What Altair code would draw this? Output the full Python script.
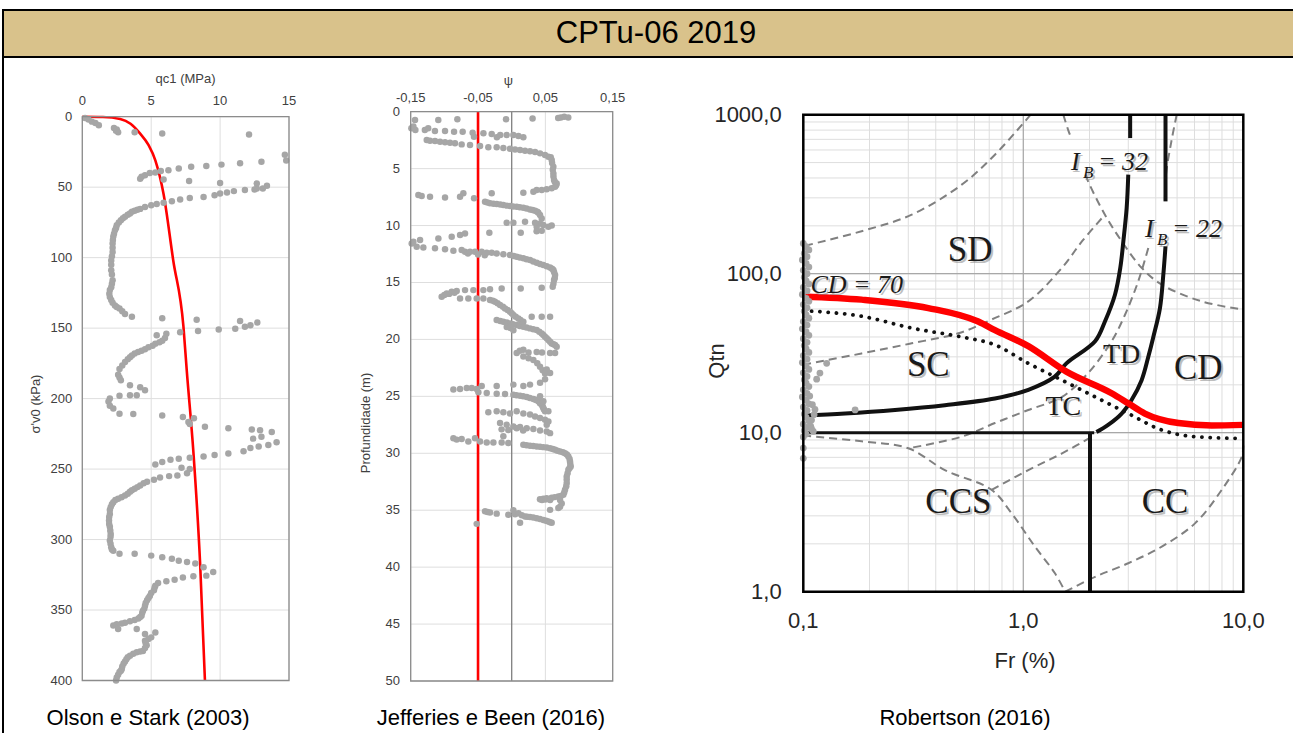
import altair as alt
import pandas as pd

W, H = 1293, 733
SANS = "Liberation Sans"
SERIF = "Liberation Serif"
PT_GREY = "#A6A6A6"
LBL = "#404040"
LBL3 = "#262626"

# ---------------- texts ----------------
header_title = "CPTu-06 2019"
caption_p1 = "Olson e Stark (2003)"
caption_p2 = "Jefferies e Been (2016)"
caption_p3 = "Robertson (2016)"
p1_x_title, p1_y_title = "qc1 (MPa)", "σ'v0 (kPa)"
p2_x_title, p2_y_title = "ψ", "Profundidade (m)"
p3_x_title, p3_y_title = "Fr (%)", "Qtn"

# ---------------- Panel 1 : qc1 (MPa) x sigma'v0 (kPa) ----------------
p1_x_domain = [0, 15]
p1_y_domain = [0, 400]
p1_x_ticks = [0, 5, 10, 15]
p1_y_ticks = [0, 50, 100, 150, 200, 250, 300, 350, 400]

p1_seg_a = [(0.2, 1), (0.45, 2), (0.7, 3.5), (0.95, 4.5), (1.2, 6), (2.3, 8), (2.45, 10), (2.5, 9),
            (2.6, 11), (3.8, 11), (5.8, 12), (12.1, 12.6)]
p1_seg_b = [(14.7, 27), (14.8, 31), (13.0, 32), (11.45, 33), (10.1, 34), (9.0, 35), (7.9, 35.5), (7.0, 36.7),
            (6.25, 38), (5.7, 38.6), (5.3, 39.6), (4.9, 40), (4.55, 41.5), (4.3, 42.6), (4.2, 44)]
p1_seg_c = [(5.9, 44.5), (7.75, 45.7), (10.0, 47), (12.66, 47.4), (12.66, 51), (13.4, 49)]
p1_seg_d = [(13.1, 51), (12.5, 51.7), (11.8, 52), (11.0, 52.8), (10.5, 53.8), (10.0, 54.5), (9.6, 55.7),
            (8.8, 57), (7.8, 57.6), (7.1, 58.8), (6.5, 60), (5.9, 61), (5.4, 62), (5.0, 62.8), (4.55, 64),
            (4.2, 65.4), (4.0, 66), (3.8, 66.8), (3.6, 67.5), (3.46, 68.7), (3.3, 69.5), (3.1, 71), (2.95, 72),
            (2.8, 73.5), (2.65, 75), (2.5, 77), (2.45, 79), (2.37, 80.6), (2.3, 83), (2.25, 85), (2.22, 87.5),
            (2.2, 90), (2.2, 93), (2.2, 96), (2.15, 99), (2.1, 102), (2.1, 105), (2.1, 109), (2.15, 112),
            (2.2, 116), (2.15, 118.5), (2.1, 121), (2.0, 123), (1.96, 125.6), (2.0, 128), (2.1, 130),
            (2.2, 132), (2.37, 134), (2.5, 135), (2.7, 136), (2.9, 138), (3.1, 140), (3.6, 142)]
p1_seg_e = [(5.8, 143), (8.3, 144), (11.45, 145), (12.7, 146), (12.2, 148), (11.8, 149), (11.1, 150.5),
            (9.9, 151), (8.4, 152), (7.1, 153), (6.1, 154), (5.4, 155), (6.0, 157), (5.8, 159), (5.6, 160),
            (5.3, 161), (5.1, 162.5), (4.8, 163.5), (4.55, 165), (4.3, 166), (4.05, 167), (3.8, 168),
            (3.6, 169.5), (3.46, 170.6), (3.3, 172), (3.1, 174), (2.9, 176.5), (2.7, 179), (2.6, 183)]
p1_seg_f = [(2.7, 185), (2.8, 187), (3.46, 190.5), (4.2, 192), (4.55, 194), (3.95, 197.6), (3.46, 197.6),
            (2.7, 198), (2.0, 200), (1.9, 202), (2.0, 205), (2.25, 207), (2.7, 210.7), (3.7, 211)]
p1_seg_g = [(5.8, 212), (7.3, 213), (8.1, 214), (7.7, 216.6), (7.8, 218), (8.9, 220), (10.6, 221), (12.3, 222),
            (12.9, 222.5), (13.75, 223.7), (13.0, 227), (12.4, 228.4), (14.1, 231), (13.5, 233), (12.8, 234),
            (12.2, 235), (11.7, 237.4), (10.6, 239), (9.6, 240), (8.8, 241), (7.8, 242), (7.0, 242.7),
            (6.4, 243.4), (5.8, 245), (5.3, 246.7)]
p1_seg_h = [(7.2, 249), (7.8, 250), (7.6, 253), (6.9, 254.5), (6.3, 255), (5.64, 256), (5.2, 257.6), (4.7, 259),
            (4.45, 260), (4.2, 261.6), (4.0, 262.8), (3.8, 264), (3.6, 265), (3.46, 266), (3.3, 267.5),
            (3.1, 268.7), (2.85, 270), (2.6, 271), (2.4, 272), (2.25, 273.5), (2.15, 275), (2.06, 277),
            (2.0, 279), (2.0, 281.8), (1.95, 284), (1.94, 286.5), (1.95, 289), (2.0, 291), (2.03, 293.5),
            (2.06, 296), (2.05, 298), (2.0, 300.7), (2.05, 303), (2.1, 305.5), (2.15, 307), (2.25, 308), (2.7, 310)]
p1_seg_i = [(3.8, 310), (5.0, 311.4), (5.8, 312.6), (6.5, 313.7), (7.0, 315), (7.6, 316), (8.2, 317),
            (8.8, 319.7), (9.5, 323), (9.0, 325.6), (8.06, 326), (7.3, 327), (6.7, 328.6), (6.1, 329.6), (5.5, 330.8)]
p1_seg_j = [(5.3, 332.7), (5.25, 334), (5.2, 336), (5.0, 338), (4.9, 340), (4.8, 341.5), (4.7, 343), (4.6, 345),
            (4.55, 347), (4.5, 349), (4.4, 350.5), (4.35, 352), (4.3, 354), (4.2, 355), (4.07, 356), (3.8, 357),
            (3.46, 358), (3.1, 359), (2.86, 359.5), (2.5, 360), (2.25, 361), (2.6, 363.5), (3.95, 363.5),
            (5.3, 366), (4.55, 367), (5.0, 369.4), (4.8, 370.5), (4.55, 371.8), (4.6, 373.5), (4.67, 375),
            (4.55, 377), (4.4, 379), (4.2, 379.5), (3.95, 380), (3.7, 381), (3.46, 382.5), (3.3, 383.5),
            (3.2, 385), (3.1, 386.5), (3.0, 388), (2.9, 390), (2.86, 392), (2.8, 393), (2.7, 394), (2.6, 396),
            (2.5, 397.9), (2.45, 400)]
p1_curve = [(0, 0), (1.5, 0.2), (2.75, 1.6), (3.5, 5), (4.2, 12), (4.8, 20), (5.3, 31), (5.9, 55),
            (6.6, 102), (7.34, 149), (7.58, 180), (8.07, 239), (8.55, 317), (8.9, 400)]

# ---------------- Panel 2 : psi x depth (m) ----------------
p2_x_domain = [-0.15, 0.15]
p2_y_domain = [0, 50]
p2_x_ticks = [-0.15, -0.05, 0.05, 0.15]
p2_y_ticks = [0, 5, 10, 15, 20, 25, 30, 35, 40, 45, 50]
p2_limit = [-0.05]
p2_zero = [0.0]

p2_seg_a = [(-0.1436, 0.73), (-0.109, 0.73), (-0.0807, 0.67), (-0.0084, 0.67), (0.031, 0.59), (0.069, 0.55),
            (0.073, 0.5), (0.078, 0.45), (0.084, 0.5)]
p2_seg_b = [(-0.149, 1.45), (-0.146, 1.3), (-0.143, 1.6), (-0.129, 1.6), (-0.124, 1.45), (-0.114, 1.7),
            (-0.099, 1.7), (-0.0856, 1.76), (-0.0728, 1.76), (-0.058, 1.85), (-0.056, 2.2), (-0.042, 1.9),
            (-0.0297, 1.96), (-0.022, 2.25), (-0.017, 2.05), (-0.0074, 2.05), (0.0025, 2.05), (0.01, 2.14),
            (0.0173, 2.25)]
p2_seg_c = [(-0.1262, 2.49), (-0.1213, 2.55), (-0.1139, 2.58), (-0.1064, 2.64), (-0.099, 2.69), (-0.0916, 2.72),
            (-0.0842, 2.78), (-0.0743, 2.87), (-0.0619, 2.93), (-0.047, 3.02), (-0.0347, 3.13), (-0.0223, 3.13),
            (-0.0124, 3.19), (-0.0025, 3.25), (0.005, 3.31), (0.0124, 3.37), (0.0198, 3.43), (0.0272, 3.48),
            (0.0347, 3.54), (0.0421, 3.66), (0.0495, 3.81), (0.0545, 3.95), (0.058, 4.0), (0.0594, 4.25),
            (0.06, 4.5), (0.0619, 4.83), (0.061, 5.1), (0.0619, 5.42), (0.062, 5.7), (0.0629, 6.0), (0.064, 6.15),
            (0.0668, 6.3), (0.066, 6.45), (0.0644, 6.59), (0.0594, 6.73), (0.052, 6.82), (0.0446, 6.88),
            (0.0371, 6.88), (0.0322, 7.03), (0.0173, 7.12)]
p2_seg_d = [(-0.1386, 7.32), (-0.1337, 7.41), (-0.1213, 7.47), (-0.099, 7.53), (-0.0767, 7.47), (-0.0718, 7.17),
            (-0.0559, 7.61), (-0.0297, 7.17)]
p2_seg_e = [(-0.0396, 7.91), (-0.036, 7.98), (-0.0322, 8.05), (-0.027, 8.08), (-0.0223, 8.11), (-0.017, 8.15),
            (-0.0124, 8.2), (-0.007, 8.25), (-0.0025, 8.29), (0.002, 8.32), (0.0074, 8.35), (0.012, 8.39),
            (0.0173, 8.43), (0.022, 8.5), (0.0272, 8.58), (0.031, 8.64), (0.0347, 8.70), (0.038, 8.78),
            (0.0396, 8.87), (0.0421, 9.08), (0.0446, 9.37), (0.0421, 9.81), (0.0371, 10.1)]
p2_seg_f = [(-0.0074, 9.75), (0.0025, 9.75), (0.0134, 10.63), (0.0198, 9.66), (0.0347, 9.75), (0.047, 9.96),
            (0.0545, 10.1), (0.0594, 10.0), (-0.0332, 10.63), (0.037, 10.5), (0.0446, 10.45)]
p2_seg_g = [(-0.0767, 10.83), (-0.0693, 10.69), (-0.0891, 10.98), (-0.1089, 11.13), (-0.1361, 11.27),
            (-0.146, 11.42), (-0.1485, 11.57), (-0.1411, 11.86), (-0.1312, 11.92)]
p2_seg_h = [(-0.1139, 12.0), (-0.099, 12.09), (-0.0866, 12.21), (-0.0743, 12.15), (-0.0693, 12.3), (-0.065, 12.45),
            (-0.0619, 12.3), (-0.0545, 12.3), (-0.05, 12.55), (-0.0446, 12.3), (-0.04, 12.6), (-0.0371, 12.39),
            (-0.0297, 12.39), (-0.0223, 12.45), (-0.0124, 12.51), (-0.0025, 12.59), (0.003, 12.67),
            (0.0074, 12.74), (0.012, 12.8), (0.0173, 12.88), (0.022, 12.95), (0.0272, 13.03), (0.032, 13.15),
            (0.0371, 13.26), (0.042, 13.37), (0.047, 13.47), (0.052, 13.58), (0.0569, 13.68), (0.06, 13.8),
            (0.0619, 13.91), (0.063, 14.1), (0.0644, 14.35), (0.064, 14.6), (0.0629, 14.79), (0.062, 15.1),
            (0.0609, 15.37)]
p2_seg_i = [(-0.104, 16.25), (-0.1, 16.1), (-0.0965, 15.96), (-0.093, 16.0), (-0.0891, 15.81), (-0.085, 15.9),
            (-0.0817, 15.75), (-0.0693, 15.67), (-0.0569, 15.67), (-0.0421, 15.67), (-0.0322, 15.6),
            (-0.0149, 15.52), (0.0134, 15.52), (0.0446, 15.46)]
p2_seg_j = [(-0.0767, 16.4), (-0.0644, 16.4), (-0.052, 16.4), (-0.0421, 16.4), (-0.0322, 16.54), (-0.028, 16.6),
            (-0.0248, 16.69), (-0.021, 16.83), (-0.0173, 16.98), (-0.013, 17.13), (-0.0099, 17.28),
            (-0.006, 17.42), (-0.0025, 17.57), (0.0, 17.7), (0.0025, 17.86), (0.006, 18.0), (0.0099, 18.16),
            (0.013, 18.3), (0.0173, 18.45)]
p2_seg_k = [(-0.0223, 18.3), (-0.017, 18.38), (-0.0124, 18.45), (-0.007, 18.52), (-0.0025, 18.6), (0.002, 18.67),
            (0.0074, 18.74), (0.012, 18.82), (0.0173, 18.89), (0.022, 18.96), (0.0272, 19.03), (0.032, 19.1),
            (0.0371, 19.18), (0.041, 19.32), (0.0446, 19.47), (0.047, 19.62), (0.0495, 19.77), (0.052, 19.9),
            (0.0545, 20.06), (0.057, 20.2), (0.0594, 20.35), (0.062, 20.43), (0.0644, 20.5), (0.0668, 20.64),
            (0.0297, 18.0), (0.0446, 18.0), (0.057, 18.0), (-0.0074, 18.9), (-0.002, 19.0), (0.0025, 19.2)]
p2_seg_l = [(0.0644, 21.2), (0.057, 21.2), (0.045, 21.15), (0.0371, 21.1), (0.025, 21.15), (0.0173, 20.9),
            (0.012, 21.0), (0.0074, 21.2), (0.0173, 21.5), (0.025, 21.65), (0.0322, 21.8), (0.038, 22.1),
            (0.0421, 22.4), (0.046, 22.7), (0.0495, 23.0), (0.052, 22.65), (0.057, 22.95), (0.0495, 23.5),
            (0.0421, 23.8), (0.0272, 23.97), (0.0173, 24.1)]
p2_seg_m = [(-0.0866, 24.4), (-0.0767, 24.35), (-0.0668, 24.27), (-0.0594, 24.27), (-0.052, 24.35),
            (-0.0445, 24.1), (-0.0223, 24.1), (0.0025, 23.97)]
p2_seg_n = [(-0.0495, 24.65), (-0.0371, 24.7), (-0.0223, 24.77), (-0.0099, 24.8), (0.0025, 24.85), (0.007, 24.9),
            (0.0124, 24.94), (0.017, 25.0), (0.0223, 25.06), (0.027, 25.15), (0.0322, 25.23), (0.036, 25.33),
            (0.0396, 25.44), (0.042, 25.6), (0.0446, 25.73), (0.046, 25.9), (0.047, 26.03), (0.048, 26.15),
            (0.0495, 26.3), (0.0545, 26.3), (0.047, 25.44), (0.0421, 25.0)]
p2_seg_o = [(-0.0347, 26.4), (-0.0223, 26.3), (-0.0124, 26.4), (-0.0025, 26.5), (0.0074, 26.3), (0.0173, 26.5),
            (0.0272, 26.6), (0.0347, 26.76), (0.0421, 26.9), (0.0495, 27.05), (0.0545, 27.2), (0.052, 27.5)]
p2_seg_p = [(-0.0173, 27.35), (-0.0074, 27.5), (0.0025, 27.64), (0.0124, 27.7), (0.0223, 27.8), (0.0322, 27.87),
            (0.0421, 28.0), (0.052, 28.08), (0.057, 28.23), (-0.015, 27.9), (-0.005, 27.95), (0.0074, 27.8),
            (0.017, 28.0)]
p2_seg_q = [(-0.0866, 28.67), (-0.0817, 28.8), (-0.0743, 28.74), (-0.0644, 28.96), (-0.0545, 28.67),
            (-0.047, 28.96), (-0.0371, 29.05), (-0.0272, 29.05), (-0.0149, 29.05), (-0.005, 29.1), (-0.0124, 28.5)]
p2_seg_r = [(0.0173, 29.25), (0.022, 29.3), (0.0272, 29.34), (0.032, 29.37), (0.0371, 29.4), (0.042, 29.43),
            (0.047, 29.46), (0.052, 29.5), (0.057, 29.55), (0.061, 29.62), (0.0644, 29.7), (0.068, 29.77),
            (0.0718, 29.84), (0.076, 29.9), (0.0792, 29.99), (0.082, 30.1), (0.0842, 30.28), (0.086, 30.5),
            (0.0866, 30.72), (0.087, 30.95), (0.0876, 31.16), (0.086, 31.3), (0.0842, 31.45), (0.083, 31.75),
            (0.0817, 32.04), (0.0817, 32.3), (0.0817, 32.62), (0.081, 32.9), (0.0792, 33.2), (0.078, 33.45),
            (0.0767, 33.65), (0.073, 33.75), (0.0693, 33.8), (0.064, 33.85), (0.0594, 33.9), (0.052, 33.94),
            (0.047, 34.0), (0.042, 34.03), (0.045, 34.1), (0.05, 34.05), (0.057, 34.1)]
p2_seg_s = [(0.0718, 34.1), (0.0743, 34.4), (0.0718, 34.7), (0.0693, 34.8), (0.057, 34.97)]
p2_seg_t = [(-0.0396, 35.1), (-0.036, 35.15), (-0.0322, 35.2), (-0.0223, 35.3), (-0.005, 35.4), (0.0025, 35.0),
            (0.005, 35.35), (0.01, 35.26), (0.015, 35.45), (0.0198, 35.55), (0.023, 35.57), (0.0272, 35.6),
            (0.032, 35.65), (0.0371, 35.7), (0.042, 35.78), (0.047, 35.85), (0.051, 35.93), (0.0545, 36.0),
            (0.057, 36.05), (0.0594, 36.1), (0.0124, 36.1), (-0.052, 36.2)]

# ---------------- Panel 3 : Robertson (2016) Fr (%) x Qtn ----------------
p3_x_domain = [0.1, 10]
p3_y_domain = [1, 1000]
p3_x_grid = [0.1, 0.2, 0.3, 0.4, 0.5, 0.6, 0.7, 0.8, 0.9, 1, 2, 3, 4, 5, 6, 7, 8, 9, 10]
p3_y_grid = [1, 2, 3, 4, 5, 6, 7, 8, 9, 10, 20, 30, 40, 50, 60, 70, 80, 90,
             100, 200, 300, 400, 500, 600, 700, 800, 900, 1000]
p3_x_labels = [0.1, 1, 10]
p3_y_labels = [1, 10, 100, 1000]
p3_x_major = [1]
p3_y_major = [10, 100]

p3_column = [(0.1, 155), (0.103, 148), (0.106, 141), (0.101, 134), (0.104, 128), (0.099, 122), (0.103, 116),
             (0.106, 110), (0.1, 105), (0.104, 100), (0.101, 95), (0.103, 90), (0.106, 86), (0.1, 82),
             (0.104, 78), (0.099, 74), (0.103, 70), (0.106, 67), (0.1, 64), (0.104, 61), (0.101, 58),
             (0.103, 55), (0.106, 52.5), (0.1, 50), (0.104, 47.5), (0.099, 45), (0.103, 43), (0.106, 41),
             (0.1, 39), (0.104, 37), (0.101, 35.3), (0.103, 33.6), (0.106, 32), (0.1, 30.5), (0.104, 29),
             (0.099, 27.6), (0.103, 26.3), (0.106, 25), (0.1, 23.8), (0.104, 22.6), (0.101, 21.5),
             (0.103, 20.5), (0.106, 19.5), (0.1, 18.6), (0.104, 17.7), (0.099, 16.8), (0.103, 16),
             (0.106, 15.2), (0.1, 14.5), (0.104, 13.8), (0.101, 13.1), (0.103, 12.5), (0.106, 11.9),
             (0.1, 11.3), (0.104, 10.8), (0.101, 10.3), (0.103, 9.8), (0.1, 9.4), (0.1, 8.0), (0.1, 6.9)]
p3_scatter = [(0.11, 15), (0.112, 13), (0.108, 11), (0.111, 10.2), (0.109, 12), (0.107, 17), (0.113, 14),
              (0.109, 10.6), (0.1277, 27.3), (0.119, 23.7), (0.115, 21.7), (0.172, 13.9)]

p3_cd70 = [(0.1, 72), (0.184, 68.7), (0.37, 60.8), (0.624, 50), (0.743, 44.2), (1.054, 35), (1.57, 24.2),
           (2.52, 17.7), (3.0, 15.3), (3.57, 13.2), (5.07, 11.5), (7.18, 11.1), (10.0, 11.2)]
p3_dotted = [(0.1, 58.5), (0.184, 54), (0.311, 45.5), (0.525, 40), (0.743, 35.7), (1.054, 27.3), (1.5, 21.4),
             (2.12, 16.8), (3.0, 13.2), (4.26, 10.4), (6.03, 9.44), (10.0, 9.2)]
p3_ib32_top = [(3.06, 1000), (3.06, 713)]
p3_ib32 = [(3.0, 420), (2.95, 259), (2.85, 160), (2.76, 109), (2.61, 73.8), (2.35, 50.1), (2.12, 37.6),
           (1.57, 27.3), (1.39, 22.5), (1.054, 18.6), (0.743, 16.4), (0.44, 14.9), (0.261, 13.9),
           (0.155, 13.2), (0.1, 12.8)]
p3_ib22_top = [(4.43, 1000), (4.43, 285)]
p3_ib22 = [(4.43, 149), (4.33, 98.6), (4.18, 60.8), (3.9, 40), (3.7, 30), (3.45, 21.4), (3.11, 16.1),
           (2.8, 13.2), (2.43, 11.2), (2.15, 10.1)]
p3_q10_line = [(0.1, 10), (2.1, 10)]
p3_fr2_line = [(2.01, 10), (2.01, 1)]

p3_dash_1 = [(0.102, 150), (0.184, 185), (0.311, 235), (0.525, 363), (0.743, 560), (1.08, 1000)]
p3_dash_2a = [(1.52, 1000), (1.6, 800), (1.66, 700)]
p3_dash_2b = [(1.92, 420), (1.97, 381), (2.35, 235), (2.8, 160), (3.45, 109), (4.26, 85.3), (6.47, 67), (10.0, 59.4)]
p3_dash_3 = [(0.1, 26.8), (0.184, 31.5), (0.311, 36.5), (0.507, 42.2), (0.706, 51), (1.054, 67), (1.5, 109),
             (1.85, 160), (2.35, 235)]
p3_dash_4a = [(4.98, 1000), (4.72, 690), (4.46, 427), (4.4, 290)]
p3_dash_4b = [(3.7, 145), (3.33, 89.6), (2.9, 55.2), (2.52, 37.6), (1.97, 23.7), (1.5, 16.8), (1.054, 13.9),
              (0.743, 11.5), (0.525, 9.44), (0.3, 7.98)]
p3_dash_5 = [(0.1, 9.6), (0.184, 8.83), (0.3, 7.98), (0.44, 5.82), (0.718, 4.37), (0.885, 3.11), (1.13, 1.92),
             (1.39, 1.31), (1.55, 1.0)]
p3_dash_6 = [(0.718, 4.37), (1.054, 5.82), (1.5, 7.41), (2.12, 9.69)]
p3_dash_7 = [(1.55, 1.0), (2.12, 1.24), (3.0, 1.51), (4.26, 1.92), (6.03, 2.69), (7.98, 4.37), (9.84, 7.06), (10.0, 8.3)]

p3_zone_big = [("SD", 0.573, 141.6), ("SC", 0.37, 26.7), ("CD", 6.24, 25.4), ("CCS", 0.507, 3.68), ("CC", 4.41, 3.68)]
p3_zone_small = [("TD", 2.8, 30.8), ("TC", 1.52, 14.6)]
p3_cd70_label = [("CD = 70", 0.175, 85.3)]
p3_ib_labels = [("= 32", 2.48, 504), ("= 22", 5.37, 191)]


# ---------------- helpers ----------------
def df_xy(pairs, xn, yn):
    return pd.DataFrame({xn: [p[0] for p in pairs], yn: [p[1] for p in pairs], "i": list(range(len(pairs)))})


def df_curves(named, xn, yn):
    frames = []
    for name, pairs in named:
        d = df_xy(pairs, xn, yn)
        d["curve"] = name
        frames.append(d)
    return pd.concat(frames, ignore_index=True)


def df_labels(items):
    return pd.DataFrame({"txt": [t[0] for t in items], "fr": [t[1] for t in items], "q": [t[2] for t in items]})


def frame_rect(xd, yd, xs, ys, color, width):
    d = pd.DataFrame({"x0": [xd[0]], "x1": [xd[1]], "y0": [yd[0]], "y1": [yd[1]]})
    return alt.Chart(d).mark_rect(fillOpacity=0, stroke=color, strokeWidth=width).encode(
        x=alt.X("x0:Q", scale=xs, axis=None), x2="x1", y=alt.Y("y0:Q", scale=ys, axis=None), y2="y1")


def grid_v(ticks, xs, ys, ydom, color, width=1.0):
    d = pd.DataFrame({"v": ticks, "lo": [ydom[0]] * len(ticks), "hi": [ydom[1]] * len(ticks)})
    return alt.Chart(d).mark_rule(color=color, strokeWidth=width).encode(
        x=alt.X("v:Q", scale=xs, axis=None), y=alt.Y("lo:Q", scale=ys, axis=None), y2="hi")


def grid_h(ticks, xs, ys, xdom, color, width=1.0):
    d = pd.DataFrame({"v": ticks, "lo": [xdom[0]] * len(ticks), "hi": [xdom[1]] * len(ticks)})
    return alt.Chart(d).mark_rule(color=color, strokeWidth=width).encode(
        y=alt.Y("v:Q", scale=ys, axis=None), x=alt.X("lo:Q", scale=xs, axis=None), x2="hi")


def labels_x(ticks, xs, ypix, expr, size, color):
    return alt.Chart(pd.DataFrame({"v": ticks})).transform_calculate(lab=expr).mark_text(
        font=SANS, fontSize=size, color=color, align="center", baseline="middle").encode(
        x=alt.X("v:Q", scale=xs, axis=None), y=alt.value(ypix), text="lab:N")


def labels_y(ticks, ys, xpix, expr, size, color):
    return alt.Chart(pd.DataFrame({"v": ticks})).transform_calculate(lab=expr).mark_text(
        font=SANS, fontSize=size, color=color, align="right", baseline="middle").encode(
        y=alt.Y("v:Q", scale=ys, axis=None), x=alt.value(xpix), text="lab:N")


one = pd.DataFrame({"k": [0]})


def free_text(txt, xpix, ypix, size, color, angle=0, font=SANS):
    kw = dict(font=font, fontSize=size, color=color, align="center", baseline="middle")
    if angle:
        kw["angle"] = angle
    return alt.Chart(one).mark_text(**kw).encode(x=alt.value(xpix), y=alt.value(ypix), text=alt.value(txt))


INT_FMT = "format(datum.v, 'd')"
COMMA2 = "replace(replace(format(datum.v, '.2f'), '.', ','), '\u2212', '-')"
COMMA1 = "replace(format(datum.v, '.1f'), '.', ',')"
GRID = "#DEDEDE"

# ---------------- Panel 1 chart ----------------
X1 = alt.Scale(domain=p1_x_domain, range=[82.3, 289.0], nice=False, zero=False)
Y1 = alt.Scale(domain=p1_y_domain, range=[116.7, 680.5], nice=False, zero=False)

p1_points = df_xy(p1_seg_a + p1_seg_b + p1_seg_c + p1_seg_d + p1_seg_e + p1_seg_f + p1_seg_g + p1_seg_h
                  + p1_seg_i + p1_seg_j, "qc1", "sv0")
p1_line = alt.Chart(df_xy(p1_curve, "qc1", "sv0")).mark_line(color="#FF0000", strokeWidth=2.6, interpolate="monotone").encode(
    x=alt.X("qc1:Q", scale=X1, axis=None), y=alt.Y("sv0:Q", scale=Y1, axis=None), order="i:Q")
p1_pts = alt.Chart(p1_points).mark_circle(size=42, color=PT_GREY, opacity=1).encode(
    x=alt.X("qc1:Q", scale=X1, axis=None), y=alt.Y("sv0:Q", scale=Y1, axis=None))
panel1 = alt.layer(
    grid_v(p1_x_ticks, X1, Y1, p1_y_domain, GRID), grid_h(p1_y_ticks, X1, Y1, p1_x_domain, GRID),
    p1_line, p1_pts, frame_rect(p1_x_domain, p1_y_domain, X1, Y1, "#8C8C8C", 1.3),
    labels_x(p1_x_ticks, X1, 101, INT_FMT, 13, LBL), labels_y(p1_y_ticks, Y1, 72.3, INT_FMT, 13, LBL),
)

# ---------------- Panel 2 chart ----------------
X2 = alt.Scale(domain=p2_x_domain, range=[410.7, 612.7], nice=False, zero=False)
Y2 = alt.Scale(domain=p2_y_domain, range=[111.7, 681.0], nice=False, zero=False)

p2_points = df_xy(p2_seg_a + p2_seg_b + p2_seg_c + p2_seg_d + p2_seg_e + p2_seg_f + p2_seg_g + p2_seg_h
                  + p2_seg_i + p2_seg_j + p2_seg_k + p2_seg_l + p2_seg_m + p2_seg_n + p2_seg_o + p2_seg_p
                  + p2_seg_q + p2_seg_r + p2_seg_s + p2_seg_t, "psi", "depth")
p2_pts = alt.Chart(p2_points).mark_circle(size=42, color=PT_GREY, opacity=1).encode(
    x=alt.X("psi:Q", scale=X2, axis=None), y=alt.Y("depth:Q", scale=Y2, axis=None))
panel2 = alt.layer(
    grid_v(p2_x_ticks, X2, Y2, p2_y_domain, GRID), grid_h(p2_y_ticks, X2, Y2, p2_x_domain, GRID),
    grid_v(p2_zero, X2, Y2, p2_y_domain, "#7F7F7F", 1.3),
    grid_v(p2_limit, X2, Y2, p2_y_domain, "#FF0000", 2.6),
    p2_pts, frame_rect(p2_x_domain, p2_y_domain, X2, Y2, "#8C8C8C", 1.3),
    labels_x(p2_x_ticks, X2, 97.5, COMMA2, 13, LBL), labels_y(p2_y_ticks, Y2, 400, INT_FMT, 13, LBL),
)

# ---------------- Panel 3 chart ----------------
X3 = alt.Scale(type="log", domain=p3_x_domain, range=[803.3, 1243.3], nice=False)
Y3 = alt.Scale(type="log", domain=p3_y_domain, range=[591.7, 114.7], nice=False)
enc3 = dict(x=alt.X("fr:Q", scale=X3, axis=None), y=alt.Y("q:Q", scale=Y3, axis=None))

dash_df = df_curves([("d1", p3_dash_1), ("d2a", p3_dash_2a), ("d2b", p3_dash_2b), ("d3", p3_dash_3),
                     ("d4a", p3_dash_4a), ("d4b", p3_dash_4b), ("d5", p3_dash_5), ("d6", p3_dash_6),
                     ("d7", p3_dash_7)], "fr", "q")
p3_dashed = alt.Chart(dash_df).mark_line(color="#808080", strokeWidth=2, strokeDash=[8, 5], interpolate="catmull-rom").encode(
    detail="curve:N", order="i:Q", **enc3)
black_curve_df = df_curves([("ib32", p3_ib32), ("ib22", p3_ib22)], "fr", "q")
black_straight_df = df_curves([("ib32t", p3_ib32_top), ("ib22t", p3_ib22_top), ("fr2", p3_fr2_line)], "fr", "q")
p3_black_curves = alt.Chart(black_curve_df).mark_line(color="#111111", strokeWidth=4, interpolate="catmull-rom").encode(
    detail="curve:N", order="i:Q", **enc3)
p3_black_straight = alt.Chart(black_straight_df).mark_line(color="#111111", strokeWidth=4).encode(
    detail="curve:N", order="i:Q", **enc3)
p3_q10 = alt.Chart(df_xy(p3_q10_line, "fr", "q")).mark_line(color="#111111", strokeWidth=3).encode(order="i:Q", **enc3)
p3_dot = alt.Chart(df_xy(p3_dotted, "fr", "q")).mark_line(color="#111111", strokeWidth=3.8, strokeDash=[0.1, 8.2],
                                                        strokeCap="round", interpolate="monotone").encode(order="i:Q", **enc3)
p3_red = alt.Chart(df_xy(p3_cd70, "fr", "q")).mark_line(color="#FF0000", strokeWidth=6.5, interpolate="monotone").encode(
    order="i:Q", **enc3)


def serif_text(items, size, italic=False, dx=0, dy=0, fixed=None):
    """Label text with the soft grey drop shadow of the original Robertson figure."""
    layers = []
    for colour, ox, oy, op in (("#8A8A8A", 2, 2, 0.55), ("#1A1A1A", 0, 0, 1)):
        kw = dict(font=SERIF, fontSize=size, color=colour, opacity=op, align="left" if fixed is not None or dx else "center",
                  baseline="middle", dx=dx + ox, dy=dy + oy)
        if italic:
            kw["fontStyle"] = "italic"
        txt = alt.value(fixed) if fixed is not None else alt.Text("txt:N")
        layers.append(alt.Chart(df_labels(items)).mark_text(**kw).encode(text=txt, **enc3))
    return layers


p3_texts = (serif_text(p3_zone_big, 35) + serif_text(p3_zone_small, 28) + serif_text(p3_cd70_label, 26, italic=True)
            + serif_text(p3_ib_labels, 26, italic=True, dx=-12)
            + serif_text(p3_ib_labels, 26, italic=True, dx=-39, fixed="I")
            + serif_text(p3_ib_labels, 17, italic=True, dx=-27, dy=11, fixed="B"))

p3_pts = alt.Chart(df_xy(p3_column + p3_scatter, "fr", "q")).mark_circle(size=46, color=PT_GREY, opacity=1).encode(**enc3)

panel3 = alt.layer(
    grid_v(p3_x_grid, X3, Y3, p3_y_domain, GRID), grid_h(p3_y_grid, X3, Y3, p3_x_domain, GRID),
    grid_v(p3_x_major, X3, Y3, p3_y_domain, "#A8A8A8", 1.2), grid_h(p3_y_major, X3, Y3, p3_x_domain, "#A8A8A8", 1.2),
    p3_dashed, p3_black_curves, p3_black_straight, p3_q10, p3_dot, p3_red,
    *p3_texts, p3_pts,
    frame_rect(p3_x_domain, p3_y_domain, X3, Y3, "#000000", 2.5),
    labels_x(p3_x_labels, X3, 621, COMMA1, 22, LBL3), labels_y(p3_y_labels, Y3, 781.7, COMMA1, 22, LBL3),
)

# ---------------- header, border, titles and captions ----------------
header_band = alt.Chart(one).mark_rect(fill="#D9C28B", stroke="#000000", strokeWidth=2).encode(
    x=alt.value(3), x2=alt.value(W + 2), y=alt.value(10), y2=alt.value(57))
left_border = alt.Chart(one).mark_rule(color="#000000", strokeWidth=2).encode(
    x=alt.value(3), y=alt.value(10), y2=alt.value(H))

texts = [
    free_text(header_title, 656, 34, 31, "#000000"),
    free_text(p1_x_title, 185.6, 79, 13, LBL), free_text(p1_y_title, 36, 404, 13, LBL, angle=270),
    free_text(p2_x_title, 508.5, 81, 13, LBL), free_text(p2_y_title, 366, 423, 13, LBL, angle=270),
    free_text(p3_x_title, 1025, 661, 22, LBL3), free_text(p3_y_title, 717, 361, 22, LBL3, angle=270),
    free_text(caption_p1, 148, 718, 22, "#000000"), free_text(caption_p2, 491, 718, 22, "#000000"),
    free_text(caption_p3, 965, 718, 22, "#000000"),
]

chart = alt.layer(header_band, left_border, panel1, panel2, panel3, *texts).resolve_scale(
    x="independent", y="independent"
).properties(
    width=W, height=H, padding=0, autosize=alt.AutoSizeParams(type="none")
).configure_view(strokeWidth=0)

chart.save("out.html", embed_options={"renderer": "svg", "actions": False})
